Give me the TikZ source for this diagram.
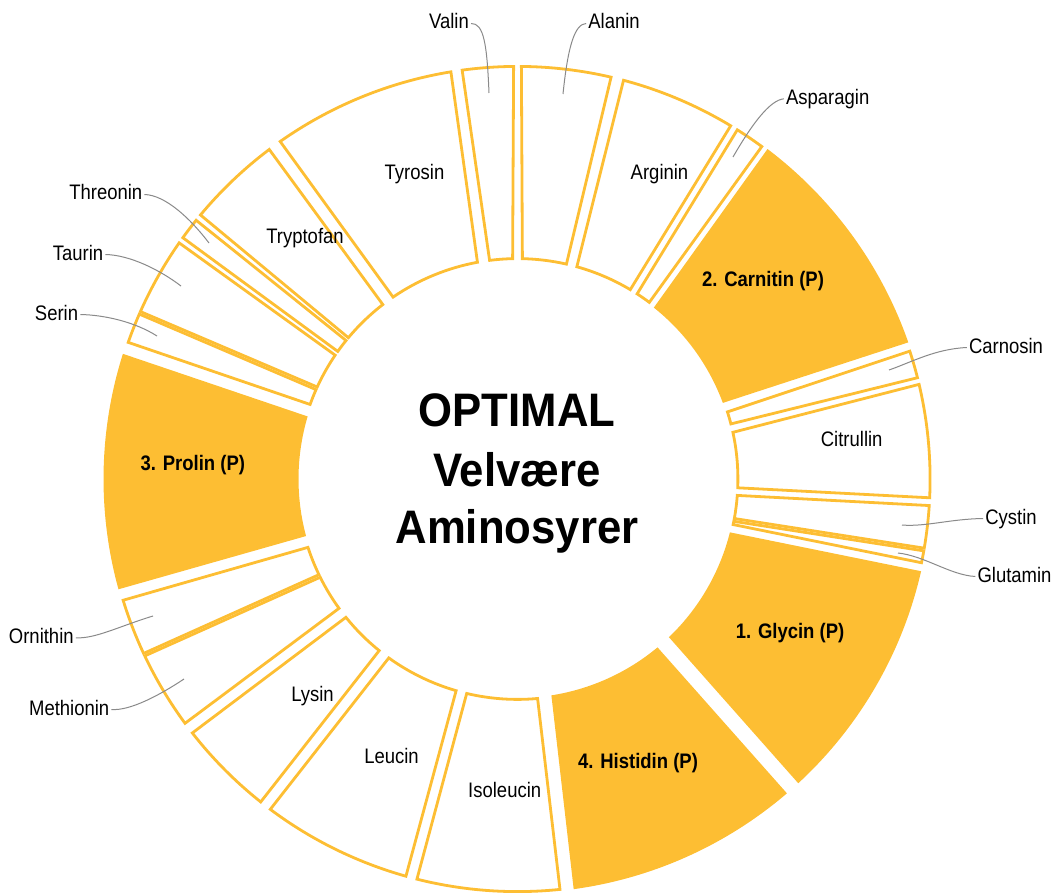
\documentclass[tikz,border=0pt]{standalone}
\usepackage{fontspec}
\setmainfont{Liberation Sans}[FakeStretch=0.88]
\newfontfamily\titlefont{Liberation Sans}[FakeStretch=0.93]
\definecolor{gold}{HTML}{FDBE33}
\definecolor{leadgray}{HTML}{8A8A8A}

% Outlined ring slice. Arguments: visual angles (degrees, counter-clockwise from east)
% of the start edge at the outer and inner rim, then of the end edge at the outer and inner rim.
% The path is pulled in by half a stroke so the outline stays inside the slice.
\newcommand\openslice[4]{%
  \path[openseg] ([shift={({-(#1)+0.19}:412.6)}]C)
    arc[start angle={-(#1)+0.19}, end angle={-(#3)-0.19}, radius=412.6]
    -- ([shift={({-(#4)-0.37}:220.4)}]C)
    arc[start angle={-(#4)-0.37}, end angle={-(#2)+0.37}, radius=220.4] -- cycle;}
% Filled ring slice, same arguments.
\newcommand\fullslice[4]{%
  \path[fullseg] ([shift={({-(#1)}:414)}]C)
    arc[start angle={-(#1)}, end angle={-(#3)}, radius=414]
    -- ([shift={({-(#4)}:219)}]C)
    arc[start angle={-(#4)}, end angle={-(#2)}, radius=219] -- cycle;}

\begin{document}
\begin{tikzpicture}[x=1pt, y=-1pt,
  openseg/.style={draw=gold, line width=2.8pt, fill=white, line join=miter},
  fullseg/.style={fill=gold},
  lbl/.style={font=\fontsize{21}{24}\selectfont, text height=15pt, text depth=4pt, inner sep=2pt, anchor=base},
  blbl/.style={lbl, font=\fontsize{21}{24}\selectfont\bfseries},
  ttl/.style={font=\titlefont\fontsize{47}{54}\selectfont\bfseries, inner sep=0pt, anchor=base},
  leader/.style={draw=leadgray, line width=1pt}]

\useasboundingbox (0,0) rectangle (1054,896);
\coordinate (C) at (517.5,479);

% ring slices, clockwise from the top
\openslice{89.65}{89.1}{76.7}{76.8}        % Alanin
\openslice{75.3}{74.75}{58.7}{58.85}       % Arginin
\openslice{58.0}{57.5}{53.5}{52.9}         % Asparagin
\fullslice{52.85}{51.5}{19.27}{20.34}      % Carnitin
\openslice{18.24}{18.1}{14.02}{14.1}       % Carnosin
\openslice{13.45}{12.6}{-2.8}{-2.66}       % Citrullin
\openslice{-3.5}{-3.9}{-9.84}{-10.7}       % Cystin
\openslice{-9.84}{-10.7}{-11.9}{-12.3}     % Glutamin
\fullslice{-12.87}{-14.1}{-47.3}{-46.25}   % Glycin
\fullslice{-49.4}{-50.25}{-82.2}{-81.1}    % Histidin
\openslice{-83.9}{-84.4}{-104.3}{-103.7}   % Isoleucin
\openslice{-105.5}{-105.8}{-127.0}{-126.1} % Leucin
\openslice{-128.3}{-128.5}{-142.2}{-141.5} % Lysin
\openslice{-143.5}{-143.7}{-154.8}{-153.9} % Methionin
\openslice{-154.8}{-153.9}{-163.1}{-162.3} % Ornithin
\fullslice{-164.55}{-164.9}{-197.6}{-196.6}% Prolin
\openslice{-199.15}{-199.4}{-203.75}{-204.3}% Serin
\openslice{-203.75}{-204.3}{-215.1}{-214.55}% Taurin
\openslice{-215.6}{-215.0}{-219.03}{-219.3}% Threonin
\openslice{-219.6}{-219.5}{-233.2}{-232.7} % Tryptofan
\openslice{-234.7}{-235.25}{-260.9}{-259.9}% Tyrosin
\openslice{97.9}{97.65}{90.35}{90.9}       % Valin

% centre title
\node[ttl] (t1) at (517,426.7) {OPTIMAL};
\node[ttl] (t2) at (517,486) {Velvære};
\node[ttl] (t3) at (517,543) {Aminosyrer};

% labels inside the slices
\node[lbl]  (iTyr) at (414.5,179.3) {Tyrosin};
\node[lbl]  (iTrp) at (305,243.3) {Tryptofan};
\node[lbl]  (iArg) at (659.5,179.3) {Arginin};
\node[blbl] (iCar) at (763,286.7) {2. Carnitin (P)};
\node[lbl]  (iCit) at (851.7,446.7) {Citrullin};
\node[blbl] (iGly) at (790,638.3) {1. Glycin (P)};
\node[blbl] (iHis) at (638,768.3) {4. Histidin (P)};
\node[lbl]  (iIle) at (504.7,797.7) {Isoleucin};
\node[lbl]  (iLeu) at (391.5,763.3) {Leucin};
\node[lbl]  (iLys) at (312.5,701.7) {Lysin};
\node[blbl] (iPro) at (192.8,470) {3. Prolin (P)};

% labels outside the ring
\node[lbl] (lVal) at (449,29) {Valin};
\node[lbl] (lAla) at (614,29) {Alanin};
\node[lbl] (lAsn) at (827.7,104.3) {Asparagin};
\node[lbl] (lCrn) at (1006,353) {Carnosin};
\node[lbl] (lCys) at (1011,524) {Cystin};
\node[lbl] (lGln) at (1014.5,582) {Glutamin};
\node[lbl] (lOrn) at (41.3,643.3) {Ornithin};
\node[lbl] (lMet) at (69.2,715) {Methionin};
\node[lbl] (lSer) at (56.5,320) {Serin};
\node[lbl] (lTau) at (78,260) {Taurin};
\node[lbl] (lThr) at (105.8,200) {Threonin};

% leader ends inside the thin slices
\coordinate (pVal) at (489,93);
\coordinate (pAla) at (563,94);
\coordinate (pAsn) at (733,157);
\coordinate (pCrn) at (889,370);
\coordinate (pCys) at (902,525);
\coordinate (pGln) at (898,553);
\coordinate (pOrn) at (153,616);
\coordinate (pMet) at (184,679);
\coordinate (pSer) at (157,336);
\coordinate (pTau) at (181,286);
\coordinate (pThr) at (209,243);

\draw[leader] (lVal.east) .. controls (484,23) and (487,45) .. (pVal);
\draw[leader] (lAla.west) .. controls (575,24) and (568,45) .. (pAla);
\draw[leader] (lAsn.west) .. controls (770,100) and (752,124) .. (pAsn);
\draw[leader] (lCrn.west) .. controls (935,349) and (912,362) .. (pCrn);
\draw[leader] (lCys.west) .. controls (950,519) and (925,527) .. (pCys);
\draw[leader] (lGln.west) .. controls (950,575) and (925,556) .. (pGln);
\draw[leader] (lOrn.east) .. controls (95,639) and (120,626) .. (pOrn);
\draw[leader] (lMet.east) .. controls (130,711) and (160,695) .. (pMet);
\draw[leader] (lSer.east) .. controls (105,315) and (135,322) .. (pSer);
\draw[leader] (lTau.east) .. controls (130,255) and (160,270) .. (pTau);
\draw[leader] (lThr.east) .. controls (165,195) and (190,218) .. (pThr);
\end{tikzpicture}
\end{document}
